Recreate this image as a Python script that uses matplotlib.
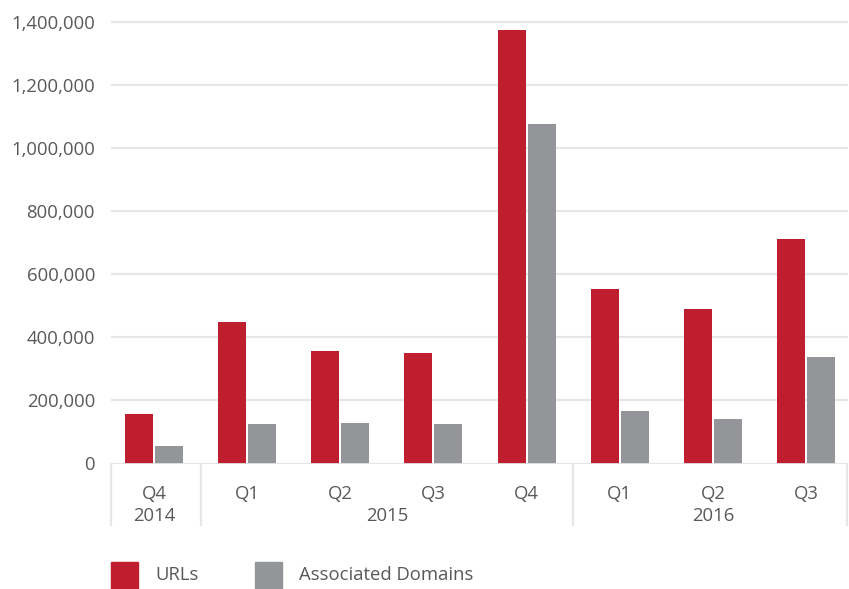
import matplotlib
matplotlib.use("Agg")
import matplotlib.pyplot as plt
from matplotlib.patches import Rectangle
from matplotlib.ticker import FuncFormatter
from matplotlib.transforms import blended_transform_factory
import numpy as np

plt.rcParams['font.family'] = ['Open Sans', 'DejaVu Sans']

quarters = ['Q4', 'Q1', 'Q2', 'Q3', 'Q4', 'Q1', 'Q2', 'Q3']
years = ['2014', '2015', '2016']
year_centers = [0, 2.5, 6]
year_breaks = [0.5, 4.5]
urls = [157000, 449000, 357000, 351000, 1376000, 554000, 490000, 712000]
domains = [55500, 125000, 128500, 125000, 1077000, 166500, 141000, 338000]

RED = '#be1e2d'
GRAY = '#939598'
TEXT = '#58595b'
GRID = '#e6e6e6'

W, H = 849, 589
fig = plt.figure(figsize=(W / 100, H / 100), dpi=100)
ax = fig.add_axes([111 / W, (H - 463.5) / H, (848 - 111) / W, (463.5 - 12.9) / H])

x = np.arange(len(quarters))
bw = 0.30
ax.bar(x - 0.161, urls, bw, color=RED, zorder=3)
ax.bar(x + 0.161, domains, bw, color=GRAY, zorder=3)

ax.set_xlim(-0.462, 7.451)
ax.set_ylim(0, 1430000)
ax.set_yticks(np.arange(0, 1400001, 200000))
ax.yaxis.set_major_formatter(FuncFormatter(lambda v, p: f'{int(v):,}'))
ax.tick_params(axis='y', length=0, pad=11.5, labelsize=13.3, labelcolor=TEXT)
ax.set_xticks([])
ax.grid(axis='y', color=GRID, linewidth=1.6, zorder=0)
for s in ax.spines.values():
    s.set_visible(False)
ax.axhline(0, color=GRID, linewidth=2, zorder=4)

# category axis: quarter and year labels with separators
trans = blended_transform_factory(ax.transData, ax.transAxes)
ax_h = 463.5 - 12.9
for xi, q in zip(x, quarters):
    ax.text(xi, -(494 - 463.5) / ax_h, q, transform=trans, ha='center', va='center',
            fontsize=13.3, color=TEXT)
for xc, yr in zip(year_centers, years):
    ax.text(xc, -(516 - 463.5) / ax_h, yr, transform=trans, ha='center', va='center',
            fontsize=13.3, color=TEXT)
for xb in [-0.462] + year_breaks + [7.44]:
    ax.plot([xb, xb], [0, -(525 - 463.5) / ax_h], transform=trans, color=GRID,
            linewidth=1.6, clip_on=False)

# legend
for x0, color, label, tx in [(111, RED, 'URLs', 155), (255, GRAY, 'Associated Domains', 299)]:
    fig.add_artist(Rectangle((x0 / W, 0), 27 / W, 27 / H, transform=fig.transFigure,
                             color=color))
    fig.text(tx / W, (H - 575) / H, label, ha='left', va='center', fontsize=13.3, color=TEXT)

fig.savefig('out.png', dpi=100)
